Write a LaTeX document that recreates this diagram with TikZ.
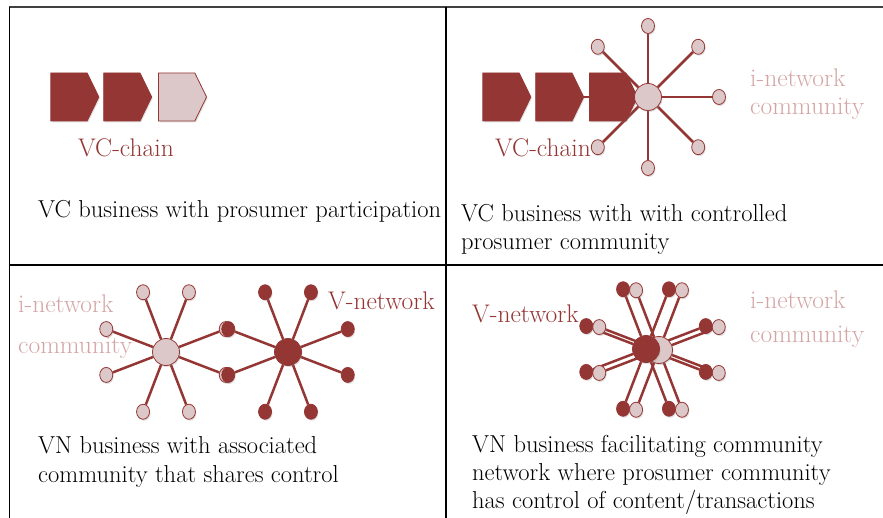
\documentclass[tikz,border=0pt]{standalone}
\usetikzlibrary{positioning,shapes.geometric,shapes.symbols,shadows,backgrounds}

\definecolor{vred}{HTML}{943634}
\definecolor{vpink}{HTML}{DCC8C8}
\definecolor{vtext}{HTML}{D4A5A5}

\begin{document}
\begin{tikzpicture}[x=1pt,y=-1pt,
   shade/.style={drop shadow={opacity=.25,shadow xshift=1pt,shadow yshift=-1.5pt}},
   chev/.style={signal,signal to=east,signal pointer angle=128,minimum width=48pt,
   minimum height=48pt,inner sep=0pt,draw=vred,fill=#1,thick,shade},
   chev/.default=vred,
   hub/.style={circle,minimum size=27pt,inner sep=0pt,draw=vred,fill=#1,thick,shade},
   sat/.style={ellipse,minimum width=13pt,minimum height=15pt,inner sep=0pt,
   draw=vred,fill=#1,thick,shade},
   spoke/.style={vred,line width=2.5pt},
   lbl/.style={anchor=base west,inner sep=0pt,align=left,font=\fontsize{24.5}{28}\selectfont},
   tag/.style={lbl,font=\fontsize{25.5}{28}\selectfont},
   node distance=4pt]
 \useasboundingbox (0,0) rectangle (883,518);

 % frame
 \draw[line width=2pt,black!75] (8.5,7.5) -- (883,7.5);
 \draw[line width=1.8pt] (9.5,7.5) -- (9.5,518);
 \draw[line width=1.8pt] (446,7.5) -- (446,518);
 \draw[line width=1.8pt] (9.5,265) -- (883,265);

 % VC business with prosumer participation
 \node[chev] (c1) at (69,97) {};
 \node[chev,right=of c1] (c2) {};
 \node[chev=vpink,right=6pt of c2] (c3) {};
 \node[tag,vred] (vc1) at (78,157) {VC-chain};
 \node[lbl] (t1) at (38,218) {VC business with prosumer participation};

 % VC business with controlled community
 \node[chev] (c4) at (501,97) {};
 \node[chev,right=of c4] (c5) {};
 \node[chev,right=5pt of c5] (c6) {};
 \node[hub=vpink] (h2) at (648,97) {};
 \foreach \a in {90,45,0,-45,-90,-135,135}
   \node[sat=vpink] (s2-\a) at ([shift={(\a:71pt)}]h2) {};
 \begin{scope}[on background layer]
   \foreach \a in {90,45,0,-45,-90,-135,135}
     \draw[spoke] (h2) -- (s2-\a);
   \draw[spoke] (h2) -- (c5);
 \end{scope}
 \node[tag,vred] (vc2) at (495,157) {VC-chain};
 \node[tag,vtext] (in2) at (750,115) {i-network\\community};
 \node[lbl] (t2) at (461,250) {VC business with with controlled\\prosumer community};

 % VN business with associated community
 \node[hub=vpink] (h3) at (166,352) {};
 \node[hub=vred] (h4) at (288,352) {};
 \foreach \a in {21,69,111,159,201,249,291,339}
   \node[sat=vpink] (s3-\a) at ([shift={(\a:64pt)}]h3) {};
 \foreach \a in {21,69,111,159,201,249,291,339}
   \node[sat=vred] (s4-\a) at ([shift={(\a:64pt)}]h4) {};
 \begin{scope}[on background layer]
   \foreach \a in {21,69,111,159,201,249,291,339}
     {\draw[spoke] (h3) -- (s3-\a);
      \draw[spoke] (h4) -- (s4-\a);}
 \end{scope}
 \node[tag,vtext,font=\fontsize{25.5}{41}\selectfont] (in3) at (18,353) {i-network\\community};
 \node[tag,vred] (vn3) at (328,310) {V-network};
 \node[lbl,font=\fontsize{24.5}{29}\selectfont] (t3) at (38,482) {VN business with associated\\community that shares control};

 % VN business facilitating community network
 \node[hub=vpink] (h6) at (659,350) {};
 \node[hub=vred] (h5) at (646,349) {};
 \foreach \a in {21,69,111,159,201,249,291,339}
   \node[sat=vred] (s5-\a) at ([shift={(\a:64pt)}]h5) {};
 \foreach \a in {21,69,111,159,201,249,291,339}
   \node[sat=vpink] (s6-\a) at ([shift={(\a:64pt)}]h6) {};
 \begin{scope}[on background layer]
   \foreach \a in {21,69,111,159,201,249,291,339}
     {\draw[spoke] (h5) -- (s5-\a);
      \draw[spoke] (h6) -- (s6-\a);}
 \end{scope}
 \node[tag,vred] (vn4) at (472,323) {V-network};
 \node[tag,vtext,font=\fontsize{25.5}{33}\selectfont] (in4) at (750,342) {i-network\\community};
 \node[lbl] (t4) at (472,508) {VN business facilitating community\\network where prosumer community\\has control of content/transactions};
\end{tikzpicture}
\end{document}
